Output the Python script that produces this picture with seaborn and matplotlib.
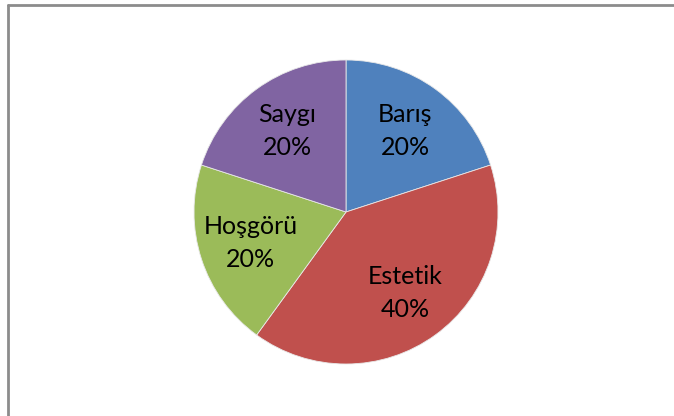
import numpy as np
import seaborn as sns
import matplotlib.pyplot as plt
from matplotlib.lines import Line2D

sns.set_theme(style="white")
plt.rcParams['font.family'] = ['Lato', 'DejaVu Sans']

# --- данные ---
categories = ["Barış", "Estetik", "Hoşgörü", "Saygı"]
values = [20, 40, 20, 20]
colors = ["#4F81BD", "#C0504D", "#9BBB59", "#8064A2"]

W, H = 674, 416
fig = plt.figure(figsize=(W / 100, H / 100), dpi=100)

# рамка слева и сверху
fig.add_artist(Line2D([7.5 / W, 7.5 / W], [0, 1 - 4.5 / H], color="#8C8C8C", lw=2.0))
fig.add_artist(Line2D([7.5 / W, 1], [1 - 4.5 / H, 1 - 4.5 / H], color="#8C8C8C", lw=2.0))

cx, cy, r = 346, 212, 152
ax = fig.add_axes([(cx - r) / W, (H - cy - r) / H, 2 * r / W, 2 * r / H])

wedges, _ = ax.pie(values, colors=colors, startangle=90, counterclock=False,
                   wedgeprops=dict(edgecolor="#E8E8E8", linewidth=0.6))

total = sum(values)
for w, cat, v in zip(wedges, categories, values):
    mid = np.deg2rad((w.theta1 + w.theta2) / 2)
    d = 0.66
    ax.text(d * np.cos(mid), d * np.sin(mid), f"{cat}\n{v / total * 100:.0f}%",
            ha="center", va="center", fontsize=18, color="black", linespacing=1.5)

ax.set_xlim(-1, 1)
ax.set_ylim(-1, 1)
ax.set_aspect("equal")
ax.axis("off")

plt.savefig("out.png", dpi=100)
plt.close()
